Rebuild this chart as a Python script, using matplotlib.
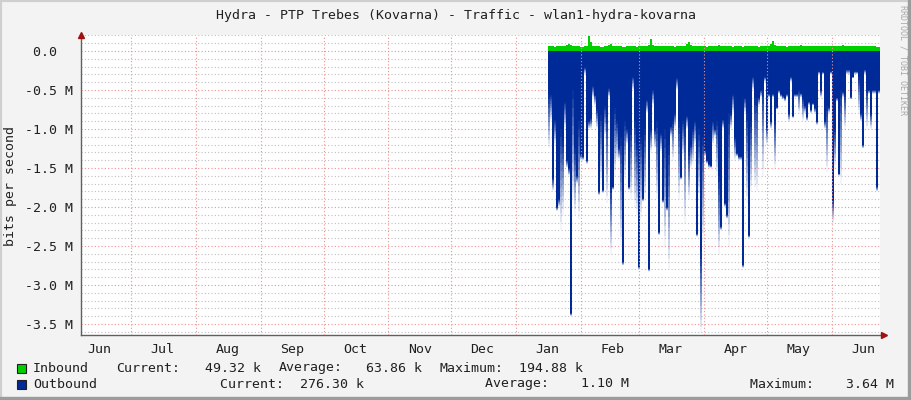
import numpy as np
import pandas as pd
import matplotlib
matplotlib.use("Agg")
import matplotlib.pyplot as plt
import matplotlib.dates as mdates
from matplotlib.patches import Rectangle
from matplotlib.ticker import MultipleLocator, FuncFormatter

# one consolidated sample every ~23 h, Jan 16 -> Jun 23
t_start = "2018-01-16 18:00"
t_end = "2018-06-23 12:00"

# inbound, k bits/s
inbound_k = [
    60, 58, 62, 57, 65, 60, 63, 70, 62, 75,
    95, 72, 66, 60, 58, 62, 57, 55, 60, 64,
    195, 120, 70, 62, 58, 60, 55, 57, 62, 68,
    72, 85, 70, 62, 58, 63, 60, 57, 55, 60,
    62, 66, 60, 58, 56, 62, 65, 70, 68, 60,
    72, 150, 80, 65, 60, 58, 62, 60, 64, 62,
    66, 60, 58, 56, 60, 62, 70, 62, 65, 85,
    110, 72, 62, 60, 58, 66, 62, 60, 58, 56,
    60, 62, 58, 64, 60, 72, 65, 60, 58, 62,
    60, 58, 55, 58, 60, 62, 58, 56, 60, 62,
    65, 60, 58, 60, 62, 56, 58, 60, 64, 62,
    70, 85, 130, 75, 60, 58, 62, 60, 58, 56,
    60, 62, 66, 64, 60, 68, 72, 66, 60, 58,
    62, 60, 64, 66, 70, 65, 60, 62, 58, 60,
    64, 62, 66, 60, 58, 62, 68, 75, 66, 62,
    60, 58, 62, 64, 66, 70, 64, 60, 62, 66,
    64, 60, 62, 58, 55, 49,
]

# outbound, M bits/s: solid part and faded tip of each sample
outbound_solid = [
    0.56, 0.56, 1.63, 0.88, 2.0, 1.9, 1.0, 1.15, 0.65, 1.4,
    1.5, 3.36, 0.5, 1.25, 1.6, 0.9, 1.33, 1.35, 0.21, 1.4,
    0.9, 0.86, 0.45, 0.56, 0.75, 1.8, 0.82, 1.78, 0.71, 0.85,
    0.48, 1.75, 1.74, 0.73, 0.9, 1.25, 1.1, 2.7, 0.9, 1.0,
    1.74,
    1.0, 0.33, 0.9, 1.2, 2.76, 1.1, 1.89, 1.0, 0.63, 2.79,
    1.0, 0.5, 1.0, 0.9, 2.32, 1.05, 1.91, 1.0, 2.0, 1.2,
    0.97, 0.9, 0.8, 0.35, 0.9, 1.61, 0.9, 1.0, 0.83, 1.3,
    1.2, 1.0, 0.9, 2.34, 1.0, 2.58, 1.1, 1.27, 1.4, 1.45,
    1.47, 0.9, 1.0,
    0.9, 1.6, 2.25, 0.88, 1.95, 2.1, 0.8, 0.8, 0.55, 1.1,
    1.31, 1.35, 1.35, 2.74, 0.6, 0.8, 2.36, 0.9, 0.33, 0.6,
    0.6, 0.6, 0.5, 0.5, 0.33, 0.97, 0.55, 0.9, 0.55, 0.9,
    0.72, 0.5, 0.55, 0.58, 0.6, 0.55, 0.8, 0.33, 0.83, 0.55,
    0.55, 0.5,
    0.54, 0.6, 0.7, 0.84, 0.65, 0.75, 0.67, 0.73, 0.9, 0.26,
    0.5, 0.27, 0.9, 0.7, 0.72, 0.26, 1.91, 1.0, 0.6, 1.57,
    0.5, 0.52, 0.55, 0.24, 0.24, 0.59, 0.33, 0.26, 0.26, 0.33,
    0.8, 1.2, 0.24, 0.5, 0.5, 0.8, 0.5, 0.5, 1.74, 0.5,
]
outbound_tip = [
    1.25, 0.9, 1.8, 1.2, 2.05, 2.0, 2.3, 2.1, 1.0, 1.5,
    1.6, 3.4, 1.9, 2.1, 1.7, 2.15, 1.4, 1.4, 0.3, 1.45,
    1.0, 1.0, 0.6, 0.7, 1.0, 1.85, 1.7, 1.82, 1.1, 1.95,
    0.6, 2.6, 1.78, 1.6, 1.4, 1.4, 2.5, 2.75, 1.65, 1.2,
    1.78,
    1.9, 0.5, 2.0, 2.1, 2.8, 2.15, 1.93, 1.9, 0.8, 2.83,
    1.3, 0.7, 1.25, 1.9, 2.36, 1.3, 1.95, 2.5, 2.05, 2.8,
    1.1, 1.4, 1.0, 0.5, 1.9, 1.65, 1.35, 2.2, 1.0, 1.9,
    1.5, 1.45, 1.2, 2.38, 1.9, 3.62, 2.45, 1.35, 1.45, 1.5,
    1.5, 1.2, 1.1,
    1.6, 2.6, 2.3, 1.0, 2.0, 2.15, 2.5, 1.0, 0.8, 1.4,
    1.35, 1.4, 1.4, 2.78, 0.8, 1.95, 2.4, 1.8, 0.5, 1.75,
    1.8, 0.7, 0.6, 1.6, 0.4, 1.2, 0.6, 1.0, 0.6, 1.5,
    0.75, 0.55, 0.6, 0.62, 0.65, 0.6, 0.9, 0.4, 0.86, 0.6,
    0.6, 0.8,
    0.6, 0.9, 0.8, 0.9, 0.7, 0.8, 0.7, 0.8, 0.95, 0.3,
    0.6, 0.3, 1.0, 1.55, 0.8, 0.3, 2.2, 1.5, 0.65, 1.6,
    1.7, 0.6, 1.0, 0.3, 0.3, 0.62, 0.35, 0.3, 0.3, 0.8,
    0.9, 1.25, 0.3, 1.0, 0.55, 1.0, 0.55, 0.55, 1.8, 0.55,
]

title = "Hydra - PTP Trebes (Kovarna) - Traffic - wlan1-hydra-kovarna"
legend_in = ["Inbound", "Current:", "49.32 k", "Average:", "63.86 k", "Maximum:", "194.88 k"]
legend_out = ["Outbound", "Current:  276.30 k", "Average:    1.10 M", "Maximum:    3.64 M"]

GREEN = "#00CF00"
BLUE = "#002A97"
W, H = 911, 400
FONT = "DejaVu Sans Mono"
plt.rcParams["font.family"] = FONT


def fx(x):
    return x / W


def fy(y):
    return 1 - y / H


times = pd.date_range(t_start, t_end, periods=len(inbound_k))
tn = mdates.date2num(times.to_pydatetime())
step = tn[1] - tn[0]
inb = np.array(inbound_k) / 1000.0
s = np.array(outbound_solid)
f = np.array(outbound_tip)

fig = plt.figure(figsize=(W / 100, H / 100), dpi=100, facecolor="#f3f3f3")
ax = fig.add_axes([fx(81), fy(335), (880 - 81) / W, (335 - 35) / H])
ax.set_facecolor("white")

# horizontal grid (below data)
ax.yaxis.set_major_locator(MultipleLocator(0.5))
ax.yaxis.set_minor_locator(MultipleLocator(0.1))
ax.grid(False)
ax.set_axisbelow(True)
ax.yaxis.grid(True, which="minor", color="#bfbfbf", linestyle=(0, (1, 2)), linewidth=0.8)
ax.yaxis.grid(True, which="major", color="#f09090", linestyle=(0, (1, 2)), linewidth=0.8)

# outbound: solid part then fading tip
ax.bar(tn, -s, width=step * 1.05, color=BLUE, linewidth=0, zorder=2)
K = 12
for k in range(K):
    top = s + (f - s) * k / K
    ax.bar(tn, -(f - s) / K, bottom=-top, width=step * 1.05, color=BLUE,
           alpha=1 - (k + 0.5) / K, linewidth=0, zorder=2)
# inbound
ax.bar(tn, inb, width=step * 1.05, color=GREEN, linewidth=0, zorder=2)

xmin = mdates.date2num(pd.Timestamp("2017-06-07 02:00"))
xmax = mdates.date2num(pd.Timestamp("2018-06-24 00:00"))
ax.set_xlim(xmin, xmax)
ax.set_ylim(-3.641, 0.205)

# month boundaries, over the data
month_starts = mdates.MonthLocator().tick_values(mdates.num2date(xmin), mdates.num2date(xmax))
ax.vlines([m for m in month_starts if xmin < m < xmax], -3.641, 0.205,
          colors="#f09090", linestyles=(0, (1, 2)), linewidth=0.8, zorder=4)

ax.xaxis.set_major_locator(mdates.MonthLocator(bymonthday=16))
ax.xaxis.set_major_formatter(mdates.DateFormatter("%b"))
ax.yaxis.set_major_formatter(FuncFormatter(
    lambda v, p: "0.0\u00a0\u00a0" if abs(v) < 1e-9 else f"{v:.1f} M"))
ax.tick_params(axis="both", which="both", length=0, labelsize=9.5, colors="#202020")
ax.tick_params(axis="y", pad=6)
ax.tick_params(axis="x", pad=6)

for sp in ["top", "right"]:
    ax.spines[sp].set_visible(False)
for sp in ["left", "bottom"]:
    ax.spines[sp].set_color("#606060")
    ax.spines[sp].set_linewidth(1)
ax.plot([0], [1.0], marker="^", color="#a01010", markersize=5, transform=ax.transAxes, clip_on=False, zorder=6)
ax.plot([1.005], [0], marker=">", color="#a01010", markersize=5, transform=ax.transAxes, clip_on=False, zorder=6)

fig.text(0.5, fy(15), title, ha="center", va="center", fontsize=9.5, color="#202020")
fig.text(fx(11), fy(186), "bits per second", rotation=90, ha="center", va="center",
         fontsize=9.5, color="#202020")
fig.text(fx(903), fy(60), "RRDTOOL / TOBI OETIKER", rotation=270, ha="center", va="center",
         fontsize=6, color="#a8a8a8")

# legend
for yy, col in [(368, GREEN), (384, BLUE)]:
    fig.patches.append(Rectangle((fx(17), fy(yy + 5)), 9 / W, 9 / H, transform=fig.transFigure,
                                 facecolor=col, edgecolor="#202020", linewidth=0.8))
for txt, x in zip(legend_in, [33, 116, 205, 279, 366, 440, 519]):
    fig.text(fx(x), fy(368), txt, ha="left", va="center", fontsize=9.5, color="#202020")
for txt, x in zip(legend_out, [33, 220, 485, 750]):
    fig.text(fx(x), fy(384), txt, ha="left", va="center", fontsize=9.5, color="#202020")

# frame
fig.patches.append(Rectangle((0, 0), 1, 1, transform=fig.transFigure, fill=False,
                             edgecolor="#cfcfcf", linewidth=3))
fig.patches.append(Rectangle((0, 0), 1, 3 / H, transform=fig.transFigure, color="#9c9c9c"))
fig.patches.append(Rectangle((1 - 3 / W, 0), 3 / W, 1, transform=fig.transFigure, color="#9c9c9c"))

fig.savefig("out.png", dpi=100, facecolor=fig.get_facecolor())
